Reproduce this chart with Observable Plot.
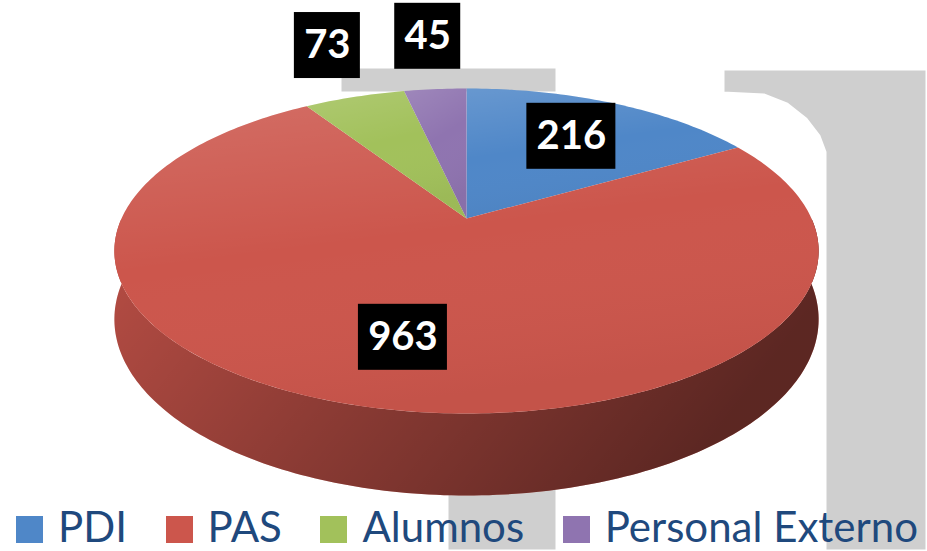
<!DOCTYPE html>
<html><head><meta charset="utf-8">
<script src="https://cdn.jsdelivr.net/npm/d3@7"></script>
<script src="https://cdn.jsdelivr.net/npm/@observablehq/plot@0.6"></script>
<style>
html,body{margin:0;padding:0;background:#fff;}
#wrap{position:relative;width:927px;height:551px;overflow:hidden;}
#bg{position:absolute;left:0;top:0;}
#chart{position:absolute;left:0;top:0;}
#legend{position:absolute;left:0;top:500px;width:927px;height:51px;}
#legend .lg-swatches{display:flex;justify-content:space-between;align-items:center;flex-wrap:nowrap;
  padding:5px 9px 0 16px;margin:0;font-family:Lato,"Liberation Sans",sans-serif;font-size:42px;line-height:42px;color:#1f497d;min-height:0;box-sizing:border-box;width:927px;}
#legend .lg-swatch{margin:0;display:inline-flex;align-items:center;line-height:42px;height:42px;}
#legend .lg-swatch > svg{margin-right:15px;margin-top:6px;}
</style></head><body>
<div id="wrap">
<svg id="bg" width="927" height="551">
  <g fill="#cfcfcf" stroke="#ffffff" stroke-width="3">
    <rect x="340" y="67" width="217" height="26"/>
    <path d="M723,69 L927,69 L927,551 L825,551 L825,152 L819,136 L806,119 L787,104 L764,95 L723,93 Z"/>
    <rect x="447" y="440" width="110" height="111"/>
  </g>
</svg>
<div id="chart"></div>
<div id="legend"></div>
</div>
<script>
// ---- data ----
const categories = ["PDI", "PAS", "Alumnos", "Personal Externo"];
const values = [216, 963, 73, 45];
const colors = ["#4f87c8", "#cc564c", "#a2c15b", "#8f74b0"];

// ---- 3D projection settings ----
const CX = 466, CY = 218, RA = 345, RB = 156, K = 0.2, THICK = 65.6;
function proj(r, a, depth) {
  const X = r * Math.sin(a), Z = r * Math.cos(a);
  const w = 1 + K * Z;
  return [CX + RA * X / w, CY + (-RB * Z + THICK * (depth || 0)) / w];
}

const total = d3.sum(values);
let acc = 0;
const slices = categories.map((c, i) => {
  const a0 = acc / total * 2 * Math.PI; acc += values[i];
  const a1 = acc / total * 2 * Math.PI;
  return {key: c, v: values[i], a0, a1};
});
const STEP = Math.PI / 180;

const topPts = [];
slices.forEach(s => {
  const [x0, y0] = proj(0, 0);
  topPts.push({key: s.key, x: x0, y: y0});
  const n = Math.max(2, Math.ceil((s.a1 - s.a0) / STEP));
  for (let j = 0; j <= n; j++) {
    const [x, y] = proj(1, s.a0 + (s.a1 - s.a0) * j / n);
    topPts.push({key: s.key, x, y});
  }
});

const wallPts = [];
slices.forEach(s => {
  const b0 = Math.max(s.a0, Math.PI / 2), b1 = Math.min(s.a1, 3 * Math.PI / 2);
  if (b1 <= b0) return;
  const n = Math.max(2, Math.ceil((b1 - b0) / STEP));
  for (let j = 0; j <= n; j++) {
    const [x, y] = proj(1, b0 + (b1 - b0) * j / n, 0);
    wallPts.push({key: s.key, x, y});
  }
  for (let j = n; j >= 0; j--) {
    const [x, y] = proj(1, b0 + (b1 - b0) * j / n, 1);
    wallPts.push({key: s.key, x, y});
  }
});

const labels = slices.map(s => {
  const mid = (s.a0 + s.a1) / 2;
  const outside = s.v / total < 0.1;
  const [x, y] = proj(outside ? 1.3 : 0.68, mid);
  const text = String(s.v);
  return {text, x, y: outside ? y - 22 : y, w: 20 + 23 * text.length, h: 66};
});

const plot = Plot.plot({
  width: 927, height: 500, margin: 0,
  x: {domain: [0, 927], range: [0, 927], axis: null},
  y: {domain: [0, 500], range: [0, 500], axis: null},
  color: {domain: categories, range: colors},
  style: {background: "transparent", overflow: "visible"},
  marks: [
    Plot.line(wallPts, {x: "x", y: "y", z: "key", fill: "key", stroke: "none", curve: "linear"}),
    Plot.line(wallPts, {x: "x", y: "y", z: "key", fill: "url(#wallShade)", stroke: "none", curve: "linear"}),
    Plot.line(topPts, {x: "x", y: "y", z: "key", fill: "key", stroke: "none", curve: "linear"}),
    Plot.line(topPts, {x: "x", y: "y", z: "key", fill: "url(#topGloss)", stroke: "none", curve: "linear"}),
    Plot.rect(labels, {x1: d => d.x - d.w / 2, x2: d => d.x + d.w / 2, y1: d => d.y - d.h / 2, y2: d => d.y + d.h / 2, fill: "black"}),
    Plot.text(labels, {x: "x", y: "y", text: "text", fill: "white", fontSize: 40, fontWeight: 700, fontFamily: "Lato, 'Liberation Sans', sans-serif"})
  ]
});

d3.select(plot).insert("defs", ":first-child").html(`
  <linearGradient id="wallShade" x1="0" y1="0" x2="1" y2="0.3">
    <stop offset="0" stop-color="#000" stop-opacity="0.1"/>
    <stop offset="0.5" stop-color="#000" stop-opacity="0.33"/>
    <stop offset="1" stop-color="#000" stop-opacity="0.55"/>
  </linearGradient>
  <linearGradient id="topGloss" x1="0" y1="0" x2="0.3" y2="1">
    <stop offset="0" stop-color="#fff" stop-opacity="0.14"/>
    <stop offset="0.5" stop-color="#fff" stop-opacity="0.0"/>
    <stop offset="1" stop-color="#000" stop-opacity="0.04"/>
  </linearGradient>`);
document.getElementById("chart").appendChild(plot);

const legend = Plot.legend({
  color: {domain: categories, range: colors},
  legend: "swatches", swatchWidth: 27, swatchHeight: 27, className: "lg"
});
document.getElementById("legend").appendChild(legend);
</script>
</body></html>
